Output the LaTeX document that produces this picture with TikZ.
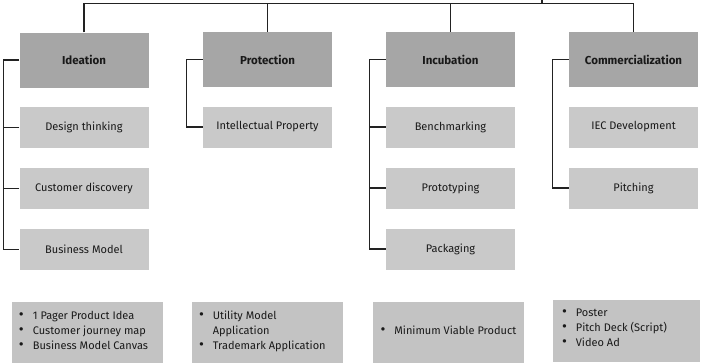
\documentclass[tikz,border=0pt]{standalone}
\usepackage{fontspec}
\setmainfont{Fira Sans}
\usetikzlibrary{calc}
\definecolor{hdr}{HTML}{A6A6A6}
\definecolor{sub}{HTML}{C9C9C9}
\definecolor{bot}{HTML}{C3C3C3}
\definecolor{ln}{HTML}{222222}
\newcommand{\bul}{{\fontsize{15}{13}\selectfont\textbullet}}
\tikzset{
  hdrbox/.style={fill=hdr, minimum width=129pt, minimum height=55pt, inner sep=0pt, font=\fontsize{11.5}{13}\selectfont\bfseries, text=black!90},
  subbox/.style={fill=sub, minimum width=129pt, minimum height=41pt, inner sep=0pt, font=\fontsize{11}{13}\selectfont, text=black!90},
  botbox/.style={fill=bot, minimum width=151pt, minimum height=61pt, inner sep=0pt},
  bottxt/.style={anchor=west, inner sep=0pt, font=\fontsize{11}{15}\selectfont, text=black!90, align=left},
  conn/.style={draw=ln, line width=1.3pt}
}
\begin{document}
\begin{tikzpicture}[x=1pt,y=-1pt]
\useasboundingbox (0,0) rectangle (702,364);
% headers
\node[hdrbox] (ide) at (84,60) {Ideation};
\node[hdrbox] (pro) at (267.5,59.5) {Protection};
\node[hdrbox] (inc) at (450.5,59.5) {Incubation};
\node[hdrbox] (com) at (633.5,59.5) {Commercialization};
% sub boxes
\node[subbox] (dt) at (84,127.5) {Design thinking};
\node[subbox] (cd) at (84,188.5) {Customer discovery};
\node[subbox] (bm) at (84,249.5) {Business Model};
\node[subbox] (ip) at (267.5,127) {Intellectual Property};
\node[subbox] (be) at (450.5,127) {Benchmarking};
\node[subbox] (pr) at (450.5,188) {Prototyping};
\node[subbox] (pa) at (450.5,249) {Packaging};
\node[subbox] (iec) at (633.5,127) {IEC Development};
\node[subbox] (pi) at (633.5,188) {Pitching};
% top connectors
\coordinate (tick) at (542,0);
\coordinate (bar) at (0,3.5);
\draw[conn] (ide.north) -- (ide.north |- bar) -- (com.north |- bar) -- (com.north);
\draw[conn] (pro.north) -- (pro.north |- bar);
\draw[conn] (inc.north) -- (inc.north |- bar);
\draw[conn] (tick) -- (tick |- bar);
% brackets
\draw[conn] (ide.west) -- ++(-16,0) coordinate (ib) |- (bm.west);
\draw[conn] (dt.west) -- (dt.west -| ib);
\draw[conn] (cd.west) -- (cd.west -| ib);
\draw[conn] (pro.west) -- ++(-16,0) |- (ip.west);
\draw[conn] (inc.west) -- ++(-16,0) coordinate (nb) |- (pa.west);
\draw[conn] (be.west) -- (be.west -| nb);
\draw[conn] (pr.west) -- (pr.west -| nb);
\draw[conn] (com.west) -- ++(-16,0) |- (pi.west);
% bottom boxes
\node[botbox] (b1) at (87.5,332.5) {};
\node[botbox] (b2) at (267.5,332.5) {};
\node[botbox] (b3) at (448,332) {};
\node[botbox, minimum width=147pt, minimum height=62pt] (b4) at (626.5,331) {};
\node[bottxt] (t1) at ($(b1.west)+(7,-1)$) {\begin{tabular}{@{}l@{\hspace{9pt}}l@{}}\bul & 1 Pager Product Idea\\ \bul & Customer journey map\\ \bul & Business Model Canvas\end{tabular}};
\node[bottxt] (t2) at ($(b2.west)+(7,-1)$) {\begin{tabular}{@{}l@{\hspace{9pt}}l@{}}\bul & Utility Model\\ & Application\\ \bul & Trademark Application\end{tabular}};
\node[bottxt] (t3) at ($(b3.west)+(8,-1)$) {\begin{tabular}{@{}l@{\hspace{9pt}}l@{}}\bul & Minimum Viable Product\end{tabular}};
\node[bottxt] (t4) at ($(b4.west)+(9,-3)$) {\begin{tabular}{@{}l@{\hspace{9pt}}l@{}}\bul & Poster\\ \bul & Pitch Deck (Script)\\ \bul & Video Ad\end{tabular}};
\end{tikzpicture}
\end{document}
